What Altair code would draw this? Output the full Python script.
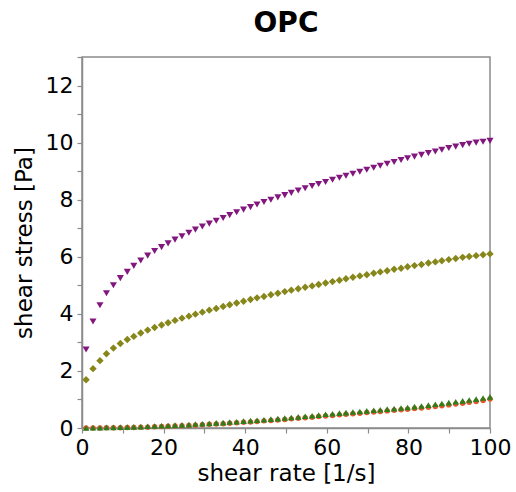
import altair as alt
import pandas as pd

shear_rate = [1.0, 2.7, 4.4, 6.0, 7.7, 9.4, 11.1, 12.7, 14.4, 16.1,
              17.8, 19.5, 21.1, 22.8, 24.5, 26.2, 27.8, 29.5, 31.2, 32.9,
              34.6, 36.2, 37.9, 39.6, 41.3, 42.9, 44.6, 46.3, 48.0, 49.7,
              51.3, 53.0, 54.7, 56.4, 58.0, 59.7, 61.4, 63.1, 64.7, 66.4,
              68.1, 69.8, 71.5, 73.1, 74.8, 76.5, 78.2, 79.8, 81.5, 83.2,
              84.9, 86.6, 88.2, 89.9, 91.6, 93.3, 94.9, 96.6, 98.3, 100.0]

purple = [2.75, 3.73, 4.30, 4.72, 5.00, 5.25, 5.47, 5.68, 5.87, 6.04,
          6.20, 6.34, 6.47, 6.60, 6.72, 6.84, 6.95, 7.06, 7.16, 7.26,
          7.36, 7.46, 7.56, 7.65, 7.74, 7.83, 7.92, 8.00, 8.08, 8.16,
          8.24, 8.32, 8.40, 8.48, 8.55, 8.62, 8.70, 8.77, 8.84, 8.91,
          8.98, 9.05, 9.12, 9.19, 9.26, 9.32, 9.39, 9.45, 9.51, 9.57,
          9.63, 9.69, 9.75, 9.81, 9.86, 9.91, 9.96, 10.00, 10.03, 10.06]

olive = [1.69, 2.08, 2.36, 2.60, 2.80, 2.96, 3.10, 3.21, 3.33, 3.43,
         3.52, 3.61, 3.69, 3.77, 3.85, 3.92, 3.99, 4.06, 4.13, 4.19,
         4.26, 4.32, 4.38, 4.44, 4.50, 4.56, 4.61, 4.67, 4.72, 4.78,
         4.83, 4.88, 4.93, 4.98, 5.03, 5.08, 5.13, 5.18, 5.23, 5.28,
         5.33, 5.37, 5.42, 5.47, 5.51, 5.56, 5.60, 5.65, 5.69, 5.73,
         5.78, 5.82, 5.86, 5.90, 5.94, 5.98, 6.01, 6.04, 6.07, 6.10]

green = [0.00, 0.01, 0.01, 0.02, 0.02, 0.03, 0.03, 0.04, 0.05, 0.06,
         0.07, 0.08, 0.09, 0.10, 0.11, 0.12, 0.14, 0.15, 0.16, 0.18,
         0.19, 0.21, 0.22, 0.24, 0.26, 0.27, 0.29, 0.31, 0.33, 0.35,
         0.37, 0.39, 0.41, 0.43, 0.45, 0.48, 0.50, 0.52, 0.54, 0.56,
         0.58, 0.60, 0.62, 0.64, 0.66, 0.68, 0.70, 0.72, 0.75, 0.77,
         0.80, 0.83, 0.86, 0.89, 0.92, 0.95, 0.98, 1.01, 1.05, 1.09]

red = [0.00, 0.00, 0.00, 0.01, 0.01, 0.01, 0.02, 0.02, 0.03, 0.03,
       0.04, 0.05, 0.06, 0.07, 0.08, 0.09, 0.10, 0.11, 0.13, 0.14,
       0.15, 0.17, 0.18, 0.20, 0.21, 0.23, 0.25, 0.26, 0.28, 0.30,
       0.32, 0.34, 0.36, 0.38, 0.40, 0.42, 0.44, 0.46, 0.48, 0.50,
       0.52, 0.54, 0.56, 0.58, 0.60, 0.62, 0.64, 0.66, 0.68, 0.70,
       0.73, 0.75, 0.78, 0.81, 0.84, 0.87, 0.90, 0.93, 0.96, 1.02]

x_ticks = [0, 10, 20, 30, 40, 50, 60, 70, 80, 90, 100]
y_ticks = list(range(0, 14))

series = [
    ("red", red, "circle", "#e4572e", 30),
    ("green", green, "triangle-up", "#2f7d1a", 42),
    ("olive", olive, "diamond", "#86861a", 55),
    ("purple", purple, "triangle-down", "#82187e", 50),
]

FONT = "DejaVu Sans"

x_enc = alt.X("x:Q",
              scale=alt.Scale(domain=[0, 100], nice=False, zero=False),
              axis=alt.Axis(title="shear rate [1/s]", values=x_ticks,
                            labelExpr="datum.value % 20 == 0 ? datum.label : ''",
                            grid=False, labelFontSize=22, titleFontSize=23,
                            titleFontWeight="normal", tickSize=5,
                            labelPadding=4, titlePadding=4,
                            domainColor="#8c8c8c", tickColor="#8c8c8c",
                            domainWidth=1.5, tickWidth=1.2,
                            labelColor="black", titleColor="black",
                            labelFont=FONT, titleFont=FONT,
                            labelFlush=False))
y_enc = alt.Y("y:Q", scale=alt.Scale(domain=[0, 13], nice=False),
              axis=alt.Axis(title="shear stress [Pa]", values=y_ticks,
                            labelExpr="datum.value % 2 == 0 ? datum.label : ''",
                            grid=False, labelFontSize=22, titleFontSize=23,
                            titleFontWeight="normal", tickSize=5,
                            labelPadding=4, titlePadding=9,
                            domainColor="#8c8c8c", tickColor="#8c8c8c",
                            domainWidth=1.5, tickWidth=1.2,
                            labelColor="black", titleColor="black",
                            labelFont=FONT, titleFont=FONT, labelFlush=False))

layers = []
for name, vals, shape, color, size in series:
    df = pd.DataFrame({"x": shear_rate, "y": vals})
    layers.append(
        alt.Chart(df).mark_point(shape=shape, filled=True, color=color,
                                 size=size, opacity=1)
        .encode(x=x_enc, y=y_enc)
    )

chart = alt.layer(*layers).properties(
    width=408, height=371,
    background="white",
    title=alt.TitleParams("OPC", fontSize=28, fontWeight="bold", font=FONT,
                          anchor="middle", offset=18, color="black"),
    autosize=alt.AutoSizeParams(type="none"),
    padding={"left": 82, "top": 57, "right": 26, "bottom": 64},
).configure_view(stroke="#8c8c8c", strokeWidth=1.5)

chart.save("out.html", embed_options={"renderer": "svg", "actions": False})
